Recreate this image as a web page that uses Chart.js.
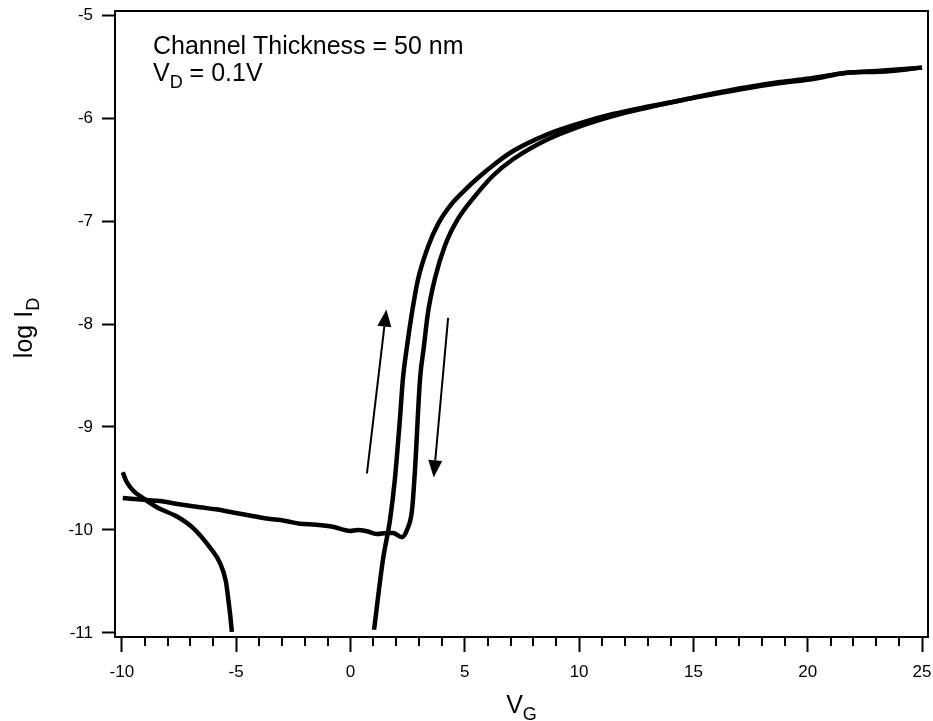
<!DOCTYPE html>
<html>
<head>
<meta charset="utf-8">
<title>log ID vs VG</title>
<script src="https://cdn.jsdelivr.net/npm/chart.js"></script>
<style>
    html, body { margin: 0; padding: 0; background: #fff; }
    .chart-container { position: relative; width: 933px; height: 721px; }
</style>
</head>
<body>
<div class="chart-container">
    <canvas id="ivChart"></canvas>
</div>

<script>
// forward sweep (arrow up). null = gap where the current goes negative
const fwdVG = [-9.96, -9.8, -9.5, -9.08, -8.47, -7.59, -6.89, -6.15, -5.71, -5.45, -5.33, -5.25, -5.19, null,
    1.03, 1.42, 1.73, 1.94, 2.16, 2.29, 2.47, 2.69, 2.95, 3.39, 3.85, 4.4, 5.0, 5.58, 6.23, 7.11, 8.59,
    10.04, 11.48, 12.97, 14.41, 15.86, 17.34, 18.79, 20.23, 21.72, 23.16, 25.0];
const fwdLogID = [-9.44, -9.53, -9.62, -9.69, -9.78, -9.87, -9.98, -10.17, -10.32, -10.50, -10.70, -10.85, -10.99, null,
    -10.97, -10.29, -9.90, -9.51, -8.93, -8.54, -8.22, -7.89, -7.57, -7.25, -7.02, -6.84, -6.70, -6.58, -6.46, -6.32, -6.16,
    -6.05, -5.96, -5.89, -5.83, -5.76, -5.70, -5.65, -5.61, -5.56, -5.54, -5.51];

// reverse sweep (arrow down)
const revVG = [25.0, 23.16, 21.72, 20.23, 18.79, 17.34, 15.86, 14.41, 12.97, 11.48, 10.04, 8.59, 7.11,
    6.23, 5.4, 4.7, 4.13, 3.69, 3.39, 3.21, 3.04, 2.82, 2.69, 2.47, 2.25, 1.86, 1.59, 1.16, 0.68, 0.3, -0.02,
    -0.77, -1.5, -2.21, -2.9, -3.66, -4.4, -5.14, -5.9, -6.59, -7.5, -8.34, -8.9, -9.96];
const revLogID = [-5.51, -5.55, -5.56, -5.62, -5.66, -5.71, -5.77, -5.83, -5.90, -5.98, -6.08, -6.21, -6.40,
    -6.56, -6.77, -6.98, -7.24, -7.56, -7.89, -8.22, -8.54, -9.42, -9.81, -10.0, -10.07, -10.03, -10.03, -10.04, -10.01, -10.0, -10.01,
    -9.97, -9.95, -9.94, -9.91, -9.89, -9.86, -9.83, -9.80, -9.78, -9.75, -9.72, -9.71, -9.69];

const xTicks = [-10, -5, 0, 5, 10, 15, 20, 25];
const yTicks = [-11, -10, -9, -8, -7, -6, -5];

// sweep direction arrows, in data units [VG, logID]
const upArrow = { from: [0.72, -9.45], to: [1.57, -7.86] };
const downArrow = { from: [4.27, -7.94], to: [3.64, -9.49] };

const FONT = '"Liberation Sans", Arial, sans-serif';

function toPoints(xs, ys) {
    return xs.map((x, i) => ({ x: x === null ? 0 : x, y: ys[i] }));
}

// text with subscripts: parts = [[text, isSub], ...]
function drawParts(ctx, parts, x, y, size, align) {
    const subSize = Math.round(size * 0.7);
    let w = 0;
    parts.forEach(p => {
        ctx.font = (p[1] ? subSize : size) + 'px ' + FONT;
        w += ctx.measureText(p[0]).width;
    });
    let cx = align === 'center' ? x - w / 2 : x;
    ctx.textAlign = 'left';
    ctx.textBaseline = 'alphabetic';
    parts.forEach(p => {
        ctx.font = (p[1] ? subSize : size) + 'px ' + FONT;
        ctx.fillText(p[0], cx, p[1] ? y + size * 0.28 : y);
        cx += ctx.measureText(p[0]).width;
    });
}

function drawArrow(ctx, xs, ys, a) {
    const x1 = xs.getPixelForValue(a.from[0]), y1 = ys.getPixelForValue(a.from[1]);
    const x2 = xs.getPixelForValue(a.to[0]), y2 = ys.getPixelForValue(a.to[1]);
    const ang = Math.atan2(y2 - y1, x2 - x1);
    const len = 17, half = 7;
    const bx = x2 - len * Math.cos(ang), by = y2 - len * Math.sin(ang);
    ctx.beginPath();
    ctx.moveTo(x1, y1);
    ctx.lineTo(bx, by);
    ctx.lineWidth = 2;
    ctx.stroke();
    ctx.beginPath();
    ctx.moveTo(x2, y2);
    ctx.lineTo(bx + half * Math.sin(ang), by - half * Math.cos(ang));
    ctx.lineTo(bx - half * Math.sin(ang), by + half * Math.cos(ang));
    ctx.closePath();
    ctx.fill();
}

const extras = {
    id: 'extras',
    afterDraw(chart) {
        const ctx = chart.ctx;
        const a = chart.chartArea;
        const xs = chart.scales.x, ys = chart.scales.y;
        ctx.save();
        ctx.strokeStyle = '#000';
        ctx.fillStyle = '#000';

        // top and right of the frame
        ctx.lineWidth = 2;
        ctx.beginPath();
        ctx.moveTo(a.left, a.top);
        ctx.lineTo(a.right, a.top);
        ctx.lineTo(a.right, a.bottom);
        ctx.stroke();

        // minor x ticks every 1 V
        for (let v = -10; v <= 25; v++) {
            if (v % 5 === 0) continue;
            const px = Math.round(xs.getPixelForValue(v));
            ctx.beginPath();
            ctx.moveTo(px, a.bottom);
            ctx.lineTo(px, a.bottom + 9);
            ctx.stroke();
        }

        drawArrow(ctx, xs, ys, upArrow);
        drawArrow(ctx, xs, ys, downArrow);

        // annotation
        drawParts(ctx, [['Channel Thickness = 50 nm', false]], a.left + 38, a.top + 43, 25, 'left');
        drawParts(ctx, [['V', false], ['D', true], [' = 0.1V', false]], a.left + 38, a.top + 70, 25, 'left');

        // axis titles
        drawParts(ctx, [['V', false], ['G', true]], (a.left + a.right) / 2, 713, 25, 'center');
        ctx.translate(32, (a.top + a.bottom) / 2 + 4);
        ctx.rotate(-Math.PI / 2);
        drawParts(ctx, [['log I', false], ['D', true]], 0, 0, 25, 'center');
        ctx.restore();
    }
};

const tickFont = { family: FONT, size: 17 };

new Chart(document.getElementById('ivChart'), {
    type: 'line',
    data: {
        datasets: [
            {
                label: 'forward',
                data: toPoints(fwdVG, fwdLogID),
                borderColor: '#000',
                borderWidth: 4.5,
                pointRadius: 0,
                cubicInterpolationMode: 'monotone',
                spanGaps: false
            },
            {
                label: 'reverse',
                data: toPoints(revVG, revLogID),
                borderColor: '#000',
                borderWidth: 4.5,
                pointRadius: 0,
                cubicInterpolationMode: 'monotone'
            }
        ]
    },
    options: {
        responsive: true,
        maintainAspectRatio: false,
        animation: false,
        layout: { padding: { top: 11, right: 5, left: 0, bottom: 0 } },
        plugins: {
            legend: { display: false },
            tooltip: { enabled: false }
        },
        scales: {
            x: {
                type: 'linear',
                min: -10.3,
                max: 25.26,
                afterBuildTicks: s => { s.ticks = xTicks.map(v => ({ value: v })); },
                afterFit: s => { s.height = 84; s.paddingLeft = 0; s.paddingRight = 0; },
                border: { color: '#000', width: 2 },
                grid: { drawOnChartArea: false, tickLength: 15, tickWidth: 2, tickColor: '#000' },
                ticks: { color: '#000', font: tickFont, padding: 10, maxRotation: 0, autoSkip: false }
            },
            y: {
                type: 'linear',
                min: -11.04,
                max: -4.96,
                afterBuildTicks: s => { s.ticks = yTicks.map(v => ({ value: v })); },
                afterFit: s => { s.width = 115; s.paddingTop = 0; s.paddingBottom = 0; },
                border: { color: '#000', width: 2 },
                grid: { drawOnChartArea: false, tickLength: 13, tickWidth: 2, tickColor: '#000' },
                ticks: { color: '#000', font: tickFont, padding: 9, autoSkip: false }
            }
        }
    },
    plugins: [extras]
});
</script>
</body>
</html>
